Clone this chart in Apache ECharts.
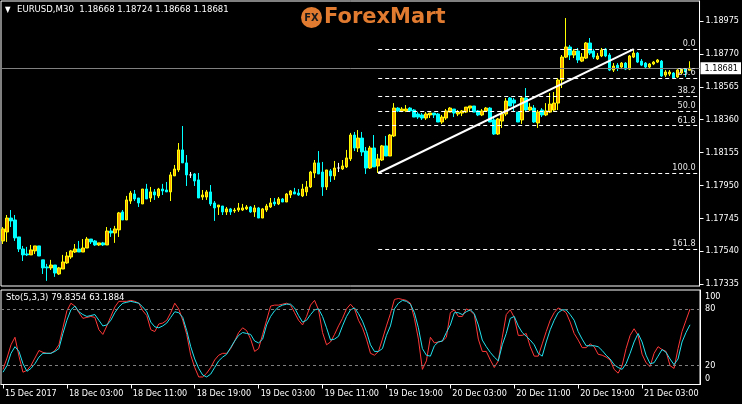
<!DOCTYPE html>
<html><head><meta charset="utf-8">
<script src="https://cdn.jsdelivr.net/npm/echarts@6/dist/echarts.min.js"></script>
<style>html,body{margin:0;padding:0;background:#000;}#c{width:742px;height:404px;}</style>
</head><body><div id="c"></div>
<script>
// ---------- DATA ----------
const symbolTitle = 'EURUSD,M30  1.18668 1.18724 1.18668 1.18681';
const stochTitle = 'Sto(5,3,3) 79.8354 63.1884';
const open = [1.17603,1.17659,1.17746,1.17734,1.17628,1.17553,1.17522,1.17516,1.17541,1.17572,
1.17485,1.17441,1.17435,1.17453,1.17397,1.17428,1.17466,1.17503,1.17534,1.17553,
1.17534,1.17559,1.17615,1.17603,1.17578,1.17591,1.17578,1.17665,1.17653,1.17672,
1.17784,1.17734,1.17852,1.17896,1.17871,1.17834,1.17927,1.17871,1.17909,1.17884,
1.17927,1.17921,1.17909,1.18009,1.18046,1.18171,1.18090,1.18015,1.18021,1.17984,
1.17877,1.17877,1.17909,1.17840,1.17815,1.17821,1.17784,1.17803,1.17790,1.17796,
1.17796,1.17803,1.17815,1.17784,1.17809,1.17746,1.17796,1.17815,1.17846,1.17834,
1.17865,1.17846,1.17890,1.17909,1.17902,1.17884,1.17909,1.17940,1.18027,1.18090,
1.18033,1.17940,1.18040,1.18009,1.18058,1.18052,1.18065,1.18115,1.18264,1.18183,
1.18245,1.18164,1.18058,1.18183,1.18071,1.18108,1.18196,1.18133,1.18258,1.18432,
1.18414,1.18414,1.18432,1.18420,1.18395,1.18389,1.18370,1.18389,1.18401,1.18395,
1.18345,1.18370,1.18407,1.18426,1.18395,1.18401,1.18407,1.18432,1.18445,1.18414,
1.18389,1.18414,1.18432,1.18358,1.18270,1.18351,1.18395,1.18495,1.18482,1.18407,
1.18358,1.18495,1.18420,1.18432,1.18339,1.18420,1.18389,1.18407,1.18420,1.18463,
1.18607,1.18750,1.18813,1.18763,1.18788,1.18725,1.18744,1.18838,1.18788,1.18738,
1.18757,1.18800,1.18763,1.18669,1.18700,1.18688,1.18713,1.18675,1.18750,1.18775,
1.18725,1.18713,1.18688,1.18707,1.18719,1.18725,1.18638,1.18644,1.18651,1.18626,
1.18651,1.18675,1.18668];
const high = [1.17690,1.17765,1.17796,1.17765,1.17628,1.17572,1.17566,1.17578,1.17572,1.17572,
1.17485,1.17460,1.17485,1.17453,1.17441,1.17516,1.17534,1.17547,1.17584,1.17603,
1.17615,1.17628,1.17615,1.17609,1.17591,1.17597,1.17690,1.17684,1.17697,1.17784,
1.17796,1.17884,1.17915,1.17921,1.17871,1.17927,1.17959,1.17940,1.17927,1.17934,
1.17959,1.17971,1.18033,1.18077,1.18214,1.18320,1.18139,1.18033,1.18027,1.18027,
1.17921,1.17921,1.17952,1.17852,1.17827,1.17821,1.17815,1.17809,1.17809,1.17840,
1.17834,1.17827,1.17821,1.17827,1.17815,1.17809,1.17834,1.17871,1.17871,1.17877,
1.17871,1.17902,1.17921,1.17934,1.17927,1.17959,1.17977,1.18040,1.18108,1.18164,
1.18096,1.18046,1.18052,1.18102,1.18090,1.18108,1.18171,1.18277,1.18283,1.18295,
1.18283,1.18189,1.18196,1.18264,1.18146,1.18202,1.18258,1.18270,1.18463,1.18438,
1.18438,1.18451,1.18438,1.18426,1.18407,1.18401,1.18407,1.18401,1.18401,1.18401,
1.18389,1.18426,1.18438,1.18426,1.18420,1.18420,1.18438,1.18445,1.18445,1.18420,
1.18426,1.18438,1.18438,1.18370,1.18370,1.18414,1.18495,1.18501,1.18495,1.18407,
1.18501,1.18557,1.18463,1.18451,1.18420,1.18432,1.18463,1.18526,1.18532,1.18619,
1.18763,1.18994,1.18825,1.18800,1.18807,1.18775,1.18844,1.18869,1.18800,1.18775,
1.18807,1.18807,1.18775,1.18713,1.18713,1.18719,1.18719,1.18763,1.18800,1.18782,
1.18738,1.18719,1.18713,1.18725,1.18738,1.18732,1.18669,1.18669,1.18657,1.18675,
1.18682,1.18682,1.18724];
const low = [1.17584,1.17597,1.17690,1.17603,1.17534,1.17478,1.17509,1.17516,1.17522,1.17509,
1.17397,1.17354,1.17422,1.17379,1.17391,1.17428,1.17460,1.17491,1.17528,1.17534,
1.17534,1.17559,1.17584,1.17572,1.17572,1.17572,1.17578,1.17628,1.17591,1.17628,
1.17734,1.17734,1.17834,1.17852,1.17815,1.17834,1.17865,1.17846,1.17859,1.17871,
1.17890,1.17909,1.17852,1.18009,1.18033,1.18090,1.17946,1.17996,1.17946,1.17871,
1.17859,1.17859,1.17821,1.17728,1.17765,1.17765,1.17765,1.17765,1.17778,1.17784,
1.17790,1.17796,1.17778,1.17753,1.17746,1.17746,1.17784,1.17809,1.17821,1.17827,
1.17846,1.17846,1.17871,1.17896,1.17884,1.17877,1.17884,1.17934,1.17996,1.18021,
1.17884,1.17921,1.17971,1.17984,1.18033,1.18046,1.18058,1.18102,1.18164,1.18158,
1.18133,1.18021,1.18052,1.18065,1.18027,1.18102,1.18133,1.18133,1.18252,1.18407,
1.18407,1.18407,1.18407,1.18376,1.18364,1.18358,1.18358,1.18370,1.18370,1.18345,
1.18333,1.18358,1.18407,1.18376,1.18382,1.18382,1.18401,1.18407,1.18407,1.18382,
1.18382,1.18407,1.18345,1.18264,1.18264,1.18308,1.18382,1.18445,1.18407,1.18345,
1.18333,1.18407,1.18414,1.18339,1.18308,1.18376,1.18382,1.18401,1.18414,1.18420,
1.18557,1.18744,1.18732,1.18744,1.18713,1.18719,1.18738,1.18763,1.18738,1.18732,
1.18750,1.18750,1.18663,1.18657,1.18663,1.18675,1.18669,1.18669,1.18744,1.18713,
1.18694,1.18682,1.18682,1.18700,1.18713,1.18626,1.18626,1.18632,1.18613,1.18619,
1.18644,1.18626,1.18668];
const close = [1.17678,1.17746,1.17728,1.17622,1.17553,1.17516,1.17516,1.17547,1.17572,1.17509,
1.17435,1.17435,1.17453,1.17403,1.17435,1.17472,1.17509,1.17541,1.17553,1.17534,
1.17559,1.17615,1.17597,1.17578,1.17591,1.17578,1.17665,1.17653,1.17678,1.17778,
1.17734,1.17859,1.17902,1.17865,1.17840,1.17927,1.17865,1.17909,1.17890,1.17927,
1.17915,1.17909,1.18015,1.18052,1.18171,1.18090,1.18015,1.18015,1.17977,1.17871,
1.17890,1.17909,1.17834,1.17809,1.17827,1.17784,1.17803,1.17784,1.17796,1.17809,
1.17809,1.17815,1.17784,1.17809,1.17746,1.17803,1.17821,1.17840,1.17834,1.17865,
1.17846,1.17896,1.17915,1.17896,1.17890,1.17927,1.17940,1.18033,1.18090,1.18021,
1.17940,1.18046,1.18009,1.18058,1.18058,1.18071,1.18121,1.18264,1.18183,1.18245,
1.18158,1.18058,1.18183,1.18065,1.18115,1.18196,1.18133,1.18264,1.18432,1.18414,
1.18426,1.18426,1.18414,1.18376,1.18376,1.18370,1.18395,1.18401,1.18389,1.18345,
1.18376,1.18414,1.18432,1.18401,1.18407,1.18414,1.18438,1.18445,1.18407,1.18389,
1.18414,1.18432,1.18345,1.18270,1.18364,1.18395,1.18476,1.18445,1.18463,1.18345,
1.18495,1.18420,1.18438,1.18345,1.18407,1.18389,1.18414,1.18457,1.18463,1.18607,
1.18750,1.18813,1.18763,1.18788,1.18732,1.18750,1.18838,1.18775,1.18750,1.18757,
1.18794,1.18757,1.18669,1.18694,1.18682,1.18713,1.18675,1.18757,1.18775,1.18719,
1.18700,1.18688,1.18707,1.18719,1.18732,1.18632,1.18657,1.18657,1.18619,1.18669,
1.18675,1.18657,1.18681];
const stochMain = [16,28,42,50,30,13,15,20,28,36,34,33,33,36,42,60,78,86,83,76,
70,71,72,71,58,53,62,72,82,88,88,88,89,88,86,78,73,58,56,64,
65,68,76,86,80,68,53,31,18,8,8,12,18,26,31,33,33,38,46,55,
60,57,48,35,38,53,68,83,84,84,85,86,84,76,68,63,72,84,89,79,
55,42,45,53,62,70,80,85,80,68,60,48,33,31,35,48,62,75,90,91,
90,89,86,70,48,16,25,50,44,45,46,50,76,79,72,72,80,78,74,48,
35,35,26,18,25,50,74,79,71,52,52,54,40,30,30,43,56,68,76,81,
79,76,66,54,47,39,39,43,40,32,31,29,26,16,12,20,38,52,59,52,
32,23,19,33,40,37,35,20,17,38,56,68,79.8354];
const stochSignal = [13,20,33,40,35,22,14,17,22,29,33,33,33,35,38,54,68,79,83,77,
74,72,73,74,68,62,63,68,76,82,86,87,88,87,86,82,77,66,61,60,
62,65,71,77,76,71,57,40,27,17,10,8,11,18,25,29,32,39,46,52,
55,54,53,46,44,48,63,72,78,82,84,85,85,81,73,66,68,74,79,80,
72,60,47,48,51,62,72,79,81,75,67,56,42,35,35,38,52,62,80,86,
89,88,85,76,60,38,31,30,41,45,46,55,63,76,76,74,77,79,75,63,
47,40,34,29,25,42,54,70,72,62,55,51,47,42,33,30,45,58,68,76,
79,79,74,68,56,48,41,41,41,40,36,31,27,21,18,16,22,33,45,54,
45,31,22,23,30,37,34,27,21,27,45,55,63.1884];
const priceTicks = [1.17335,1.17540,1.17745,1.17950,1.18155,1.18360,1.18565,1.18770,1.18975];
const stochTicks = [0,20,80,100];
const stochLevels = [20,80];
const lastPrice = 1.18681;
const fibHigh = 1.18800, fibLow = 1.18027;
const fibLevels = [0,23.6,38.2,50,61.8,100,161.8];
const fibStartBar = 94, trendEndBar = 158;
const tickEvery = 16;
const firstTickLabel = '15 Dec 2017';

// categories: M30 bar times (Fri 15 Dec 19:00 .. then Mon 18 Dec 00:00 onwards)
const MON = ['Jan','Feb','Mar','Apr','May','Jun','Jul','Aug','Sep','Oct','Nov','Dec'];
const categories = [];
for (let i = 0; i < 175; i++) {
  const base = i < 10 ? Date.UTC(2017,11,15,19,0) + i*1800000 : Date.UTC(2017,11,18,0,0) + (i-10)*1800000;
  const d = new Date(base);
  const p = n => String(n).padStart(2,'0');
  categories.push(p(d.getUTCDate())+' '+MON[d.getUTCMonth()]+' '+p(d.getUTCHours())+':'+p(d.getUTCMinutes()));
}

// ---------- CHART ----------
const FONT = "'DejaVu Sans Condensed','Liberation Sans',sans-serif";
const ohlc = open.map((o,i) => {
  const v = [o, close[i], low[i], high[i]];
  return o === close[i] ? {value: v, itemStyle: {color:'#fff', color0:'#fff', borderColor:'#fff', borderColor0:'#fff'}} : v;
});
const lastIdx = categories.length - 1;
const fibLines = fibLevels.map(l => {
  const price = fibHigh - (fibHigh - fibLow) * l / 100;
  return [
    {coord:[fibStartBar, price], lineStyle:{color:'#fff', type:[4,3], width:1},
     label:{show:true, position:'insideEndTop', formatter: l.toFixed(1), color:'#e6e6e6', fontSize:9, fontFamily:FONT, distance:[2,1]}},
    {coord:[lastIdx, price]}
  ];
});

const chart = echarts.init(document.getElementById('c'), null, {renderer:'canvas'});
chart.setOption({
  backgroundColor:'#000',
  animation:false,
  textStyle:{fontFamily:FONT},
  grid:[
    {left:1, top:1, width:699, height:285, show:true, borderColor:'#fff', borderWidth:1, backgroundColor:'#000'},
    {left:1, top:290, width:699, height:94.5, show:true, borderColor:'#fff', borderWidth:1, backgroundColor:'#000'}
  ],
  xAxis:[
    {type:'category', gridIndex:0, data:categories, boundaryGap:true, axisLine:{show:false}, axisTick:{show:false}, axisLabel:{show:false}, splitLine:{show:false}},
    {type:'category', gridIndex:1, data:categories, boundaryGap:true,
     axisLine:{show:true, lineStyle:{color:'#fff'}},
     axisTick:{show:true, alignWithLabel:true, length:4, lineStyle:{color:'#fff'}, interval:(i)=> i % tickEvery === 0 && i <= 160},
     axisLabel:{interval:(i)=> i % tickEvery === 0 && i <= 160, align:'left', color:'#fff', fontSize:9, fontFamily:FONT, margin:5, padding:[0,0,0,2],
       formatter:(v,i)=> i === 0 ? firstTickLabel : v},
     splitLine:{show:false}}
  ],
  yAxis:[
    {type:'value', gridIndex:0, position:'right', min:1.17322, max:1.19100, scale:true,
     axisLine:{show:true, lineStyle:{color:'#fff'}},
     axisTick:{show:true, length:4, inside:false, customValues:priceTicks, lineStyle:{color:'#fff'}},
     axisLabel:{customValues:priceTicks, formatter:v=>Number(v).toFixed(5), color:'#fff', fontSize:9, fontFamily:FONT, margin:6},
     splitLine:{show:false}},
    {type:'value', gridIndex:1, position:'right', min:0, max:100,
     axisLine:{show:true, lineStyle:{color:'#fff'}},
     axisTick:{show:false},
     axisLabel:{customValues:stochTicks, color:'#fff', fontSize:9, fontFamily:FONT, margin:5,
       formatter:v=> v === 100 ? '{t|100}' : (v === 0 ? '{b|0}' : String(v)),
       rich:{t:{padding:[13,0,0,0], color:'#fff', fontSize:9}, b:{padding:[0,0,11,0], color:'#fff', fontSize:9}}},
     splitLine:{show:false}}
  ],
  series:[
    {type:'candlestick', xAxisIndex:0, yAxisIndex:0, data:ohlc, barWidth:3,
     itemStyle:{color:'#FFA500', color0:'#00FFFF', borderColor:'#FFFF00', borderColor0:'#00FFFF', borderWidth:1, borderColorDoji:'#fff'},
     markLine:{silent:true, symbol:['none','none'], animation:false, precision:5,
       data:[
         {yAxis:lastPrice, lineStyle:{color:'#808080', type:'solid', width:1},
          label:{show:true, position:'end', formatter:lastPrice.toFixed(5), backgroundColor:'#fff', color:'#000', padding:[2,3,1,4], distance:1, fontSize:9, fontFamily:FONT}},
         ...fibLines,
         [{coord:[fibStartBar, fibLow], lineStyle:{color:'#fff', type:'solid', width:2}, label:{show:false}},
          {coord:[trendEndBar, fibHigh]}]
       ]}},
    {type:'line', name:'Main', xAxisIndex:1, yAxisIndex:1, data:stochMain, showSymbol:false, symbol:'none',
     lineStyle:{color:'#ff3838', width:1}, itemStyle:{color:'#ff3838'},
     markLine:{silent:true, symbol:['none','none'], label:{show:false},
       lineStyle:{color:'#808080', type:[3,3], width:1},
       data: stochLevels.map(v=>({yAxis:v}))}},
    {type:'line', name:'Signal', xAxisIndex:1, yAxisIndex:1, data:stochSignal, showSymbol:false, symbol:'none',
     lineStyle:{color:'#20e4f0', width:1}, itemStyle:{color:'#20e4f0'}}
  ],
  graphic:[
    {type:'text', left:5, top:6, style:{text:'▼', fill:'#fff', font:'8px '+FONT}},
    {type:'text', left:17, top:5, style:{text:symbolTitle, fill:'#fff', font:'9.5px '+FONT}},
    {type:'text', left:6, top:293, style:{text:stochTitle, fill:'#fff', font:'9.5px '+FONT}},
    {type:'circle', shape:{cx:311.5, cy:17.5, r:10.5}, style:{fill:'#e07b30'}},
    {type:'text', x:311.5, y:18, style:{text:'FX', fill:'#1a1a1a', font:'bold 11px '+FONT, align:'center', verticalAlign:'middle'}},
    {type:'text', x:324, y:18, style:{text:'ForexMart', fill:'#e07b30', font:"bold 21px 'DejaVu Sans',sans-serif", verticalAlign:'middle'}}
  ]
});
</script></body></html>
